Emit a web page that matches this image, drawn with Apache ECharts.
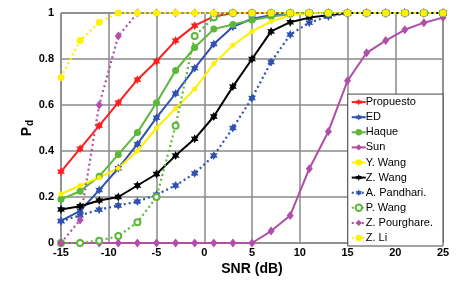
<!DOCTYPE html>
<html>
<head>
<meta charset="utf-8">
<script src="https://cdn.jsdelivr.net/npm/echarts@6/dist/echarts.min.js"></script>
<style>
  html, body { margin: 0; padding: 0; background: #fff; }
  #chart { width: 457px; height: 281px; }
</style>
</head>
<body>
<div id="chart"></div>
<script>
// SNR (dB) sample points
const snr = [-15, -13, -11, -9, -7, -5, -3, -1, 1, 3, 5, 7, 9, 11, 13, 15, 17, 19, 21, 23, 25]

// Pd per method
const propuesto = [0.31, 0.41, 0.51, 0.61, 0.71, 0.79, 0.88, 0.945, 0.985, 1, 1, 1, 1, 1, 1, 1, 1, 1, 1, 1, 1]
const ed = [0.096, 0.14, 0.23, 0.325, 0.43, 0.545, 0.65, 0.76, 0.865, 0.94, 0.975, 0.99, 1, 1, 1, 1, 1, 1, 1, 1, 1]
const haque = [0.19, 0.225, 0.29, 0.385, 0.48, 0.61, 0.75, 0.85, 0.93, 0.95, 0.97, 0.985, 0.995, 1, 1, 1, 1, 1, 1, 1, 1]
const sun = [0, 0, 0, 0, 0, 0, 0, 0, 0, 0, 0, 0.052, 0.12, 0.323, 0.485, 0.705, 0.827, 0.88, 0.927, 0.958, 0.98]
const yWang = [0.213, 0.25, 0.285, 0.325, 0.4, 0.5, 0.585, 0.67, 0.78, 0.86, 0.92, 0.963, 0.99, 1, 1, 1, 1, 1, 1, 1, 1]
const zWang = [0.146, 0.16, 0.185, 0.2, 0.25, 0.3, 0.38, 0.453, 0.55, 0.68, 0.8, 0.92, 0.96, 0.98, 0.99, 1, 1, 1, 1, 1, 1]
const pandhari = [0.095, 0.12, 0.145, 0.163, 0.18, 0.21, 0.25, 0.303, 0.38, 0.5, 0.63, 0.787, 0.906, 0.958, 0.985, 1, 1, 1, 1, 1, 1]
const pWang = [0, 0, 0.01, 0.03, 0.09, 0.2, 0.51, 0.9, 0.98, 1, 1, 1, 1, 1, 1, 1, 1, 1, 1, 1, 1]
const pourghare = [0, 0.1, 0.6, 0.9, 1, 1, 1, 1, 1, 1, 1, 1, 1, 1, 1, 1, 1, 1, 1, 1, 1]
const zLi = [0.72, 0.88, 0.96, 1, 1, 1, 1, 1, 1, 1, 1, 1, 1, 1, 1, 1, 1, 1, 1, 1, 1]

const yTicks = [0, 0.2, 0.4, 0.6, 0.8, 1]

// six pointed star like the matlab hexagram marker
function starPath() {
    let p = ''
    for (let i = 0; i < 12; i++) {
        const a = (i * 30 - 90) * Math.PI / 180
        const r = i % 2 === 0 ? 10 : 5.5
        p += (i === 0 ? 'M' : 'L') + (10 + r * Math.cos(a)).toFixed(2) + ' ' + (10 + r * Math.sin(a)).toFixed(2)
    }
    return 'path://' + p + 'Z'
}
const star = starPath()

const FONT = 'Liberation Sans'

function mk(name, vals, color, symbol, size, dotted) {
    return {
        name: name,
        type: 'line',
        data: snr.map((x, i) => [x, vals[i]]),
        symbol: symbol,
        symbolSize: size,
        symbolKeepAspect: true,
        showSymbol: true,
        itemStyle: { color: color, borderColor: color, borderWidth: symbol === 'emptyCircle' ? 1.5 : 0 },
        lineStyle: { color: color, width: dotted ? 2.2 : 2, type: dotted ? [2, 3] : 'solid' },
        emphasis: { disabled: true },
        animation: false
    }
}

const RED = '#ff1f1f'
const BLUE = '#2f52b0'
const GREEN = '#5cb83a'
const MAG = '#b14ea8'
const YEL = '#fff000'

let myChart = echarts.init(document.getElementById('chart'))
let option = {
    backgroundColor: '#FFFFFF',
    animation: false,
    grid: {
        left: 61,
        right: 14,
        top: 13,
        bottom: 34.5,
        show: true,
        borderColor: '#555',
        borderWidth: 1
    },
    legend: {
        orient: 'vertical',
        right: 14,
        bottom: 35,
        backgroundColor: '#fff',
        borderColor: '#444',
        borderWidth: 1,
        borderRadius: 0,
        padding: [1, 10, 1, 3],
        itemWidth: 14,
        itemHeight: 8,
        itemGap: 1.1,
        textStyle: { fontFamily: FONT, fontSize: 11, color: '#000', lineHeight: 14, padding: [0, 0, 0, -5] },
        data: ['Propuesto', 'ED', 'Haque', 'Sun', 'Y. Wang', 'Z. Wang', 'A. Pandhari.', 'P. Wang', 'Z. Pourghare.', 'Z. Li']
    },
    xAxis: {
        type: 'value',
        min: -15,
        max: 25,
        interval: 5,
        name: 'SNR (dB)',
        nameLocation: 'middle',
        nameGap: 19,
        nameMoveOverlap: false,
        nameTextStyle: { fontFamily: FONT, fontSize: 14, fontWeight: 'bold', color: '#000' },
        axisLine: { show: false },
        axisTick: { show: false },
        axisLabel: { fontFamily: FONT, fontSize: 11, fontWeight: 'bold', color: '#000', margin: 4 },
        splitLine: { show: true, lineStyle: { color: '#8a8a8a', width: 1.5 } }
    },
    yAxis: {
        type: 'value',
        min: 0,
        max: 1,
        interval: 0.2,
        name: '{p|P}{d|d}',
        nameLocation: 'middle',
        nameGap: 26,
        nameMoveOverlap: false,
        nameTextStyle: {
            rich: {
                p: { fontFamily: FONT, fontSize: 14, fontWeight: 'bold', color: '#000', lineHeight: 16 },
                d: { fontFamily: FONT, fontSize: 10, fontWeight: 'bold', color: '#000', lineHeight: 16, verticalAlign: 'bottom', padding: [6, 0, 0, 1] }
            }
        },
        axisLine: { show: false },
        axisTick: { show: false },
        axisLabel: {
            fontFamily: FONT, fontSize: 11, fontWeight: 'bold', color: '#000', margin: 7,
            formatter: function (v) {
                const t = yTicks.find(k => Math.abs(k - v) < 1e-6)
                return t === undefined ? '' : String(t)
            }
        },
        splitLine: { show: true, lineStyle: { color: '#8a8a8a', width: 1.5 } }
    },
    series: [
        mk('Propuesto', propuesto, RED, star, 9, false),
        mk('ED', ed, BLUE, star, 9, false),
        mk('Haque', haque, GREEN, 'circle', 7, false),
        mk('Sun', sun, MAG, 'diamond', [7, 9], false),
        mk('Y. Wang', yWang, YEL, 'circle', 5, false),
        mk('Z. Wang', zWang, '#000000', star, 9, false),
        mk('A. Pandhari.', pandhari, BLUE, star, 9, true),
        mk('P. Wang', pWang, GREEN, 'emptyCircle', 6, true),
        mk('Z. Pourghare.', pourghare, MAG, 'diamond', [7, 9], true),
        mk('Z. Li', zLi, YEL, 'circle', 7, true)
    ]
}
myChart.setOption(option)
window.addEventListener('resize', function () {
    myChart.resize()
})
</script>
</body>
</html>
